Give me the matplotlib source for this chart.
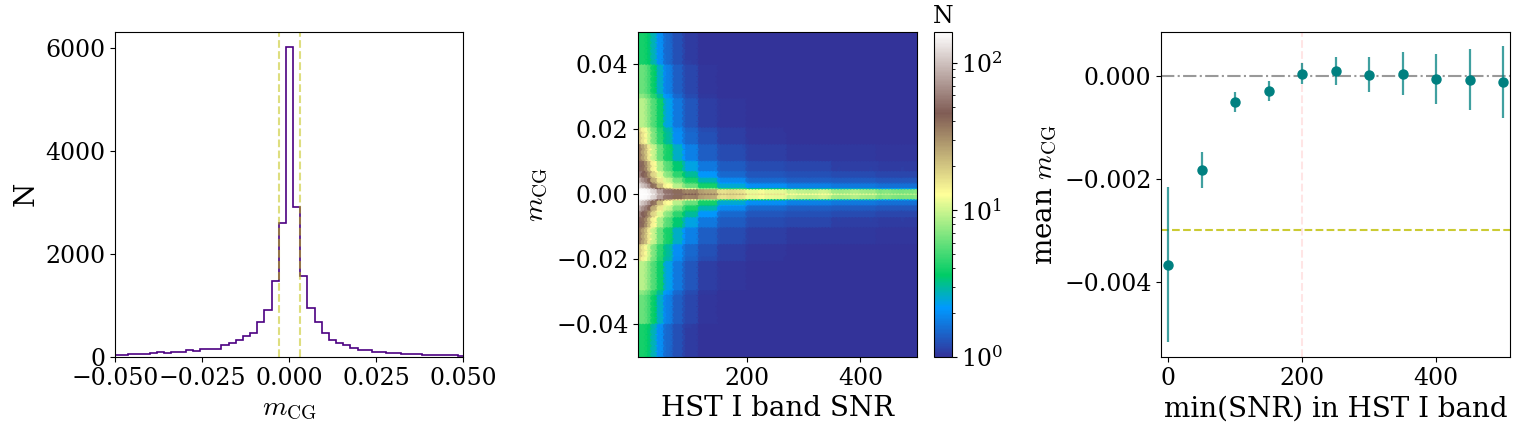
import numpy as np
import matplotlib
matplotlib.use('Agg')
import matplotlib.pyplot as plt
from matplotlib.colors import LogNorm

plt.rcParams['font.family'] = 'DejaVu Serif'
plt.rcParams['mathtext.fontset'] = 'cm'
plt.rcParams['xtick.labelsize'] = 17
plt.rcParams['ytick.labelsize'] = 17

# --- panel 1: histogram of m_CG (counts per bin)
hist_edges = np.linspace(-0.0504, 0.0505, 50)
hist_counts = [32, 32, 58, 58, 58, 78, 97, 78, 90, 90, 129, 110, 149, 149, 149,
               233, 265, 323, 400, 459, 672, 905, 1480, 2611,
               6030,
               2915, 1584, 944, 672, 472, 336, 265, 233, 181, 129, 129, 97, 97,
               78, 78, 58, 58, 58, 32, 32, 32, 32, 32, 25]
cut_lines = [-0.003, 0.003]

# --- panel 2: hexbin density, mean counts per (|m|, SNR) block
snr_edges = [9.3, 16, 24, 32, 42, 55, 70, 90, 115, 150, 200, 270, 350, 430, 500]
absm_edges = [0, 0.001, 0.002, 0.0035, 0.005, 0.0075, 0.01, 0.015, 0.02, 0.03, 0.04, 0.05]
density = [
    [160, 165, 160, 140, 95, 65, 52, 45, 35, 22, 16, 13, 11, 9],
    [150, 150, 125, 85, 45, 28, 18, 12, 8, 5, 3.5, 3, 2.8, 2.5],
    [120, 100, 70, 40, 22, 13, 9, 6, 4, 2.5, 2, 1.8, 1.7, 1.6],
    [85, 65, 42, 25, 15, 10, 6.5, 4, 2.8, 1.9, 1.5, 1.4, 1.35, 1.3],
    [60, 45, 30, 18, 11, 7, 4.5, 3, 2.1, 1.5, 1.3, 1.25, 1.2, 1.15],
    [50, 38, 22, 14, 8.5, 5.5, 3.5, 2.4, 1.7, 1.35, 1.2, 1.15, 1.1, 1.08],
    [35, 25, 15, 10, 6, 4, 2.6, 1.8, 1.4, 1.2, 1.1, 1.05, 1.05, 1.03],
    [20, 15, 10, 7, 4.5, 3, 2.0, 1.5, 1.25, 1.1, 1.03, 1, 1, 1],
    [9, 9, 7, 5.5, 3.8, 2.4, 1.7, 1.3, 1.1, 1.03, 1, 1, 1, 1],
    [6, 6, 5, 3.8, 2.6, 1.8, 1.4, 1.15, 1.03, 1, 1, 1, 1, 1],
    [4, 4, 3.5, 2.8, 2.0, 1.5, 1.25, 1.08, 1, 1, 1, 1, 1, 1],
]

# --- panel 3: mean m_CG vs SNR cut
snr_cut = [0, 50, 100, 150, 200, 250, 300, 350, 400, 450, 500]
mean_m = [-3.665e-3, -1.826e-3, -0.51e-3, -0.297e-3, 0.039e-3, 0.09e-3,
          0.013e-3, 0.039e-3, -0.065e-3, -0.077e-3, -0.123e-3]
mean_err = [1.5e-3, 0.35e-3, 0.2e-3, 0.2e-3, 0.21e-3, 0.27e-3,
            0.34e-3, 0.42e-3, 0.49e-3, 0.59e-3, 0.69e-3]

fig = plt.figure(figsize=(15.24, 4.33), dpi=100)
ax1 = fig.add_axes([0.0757, 0.1755, 0.2283, 0.7517])
ax2 = fig.add_axes([0.4188, 0.1755, 0.1831, 0.7517])
cax = fig.add_axes([0.6130, 0.1755, 0.01142, 0.7517])
ax3 = fig.add_axes([0.7620, 0.1755, 0.2288, 0.7517])

# histogram
ax1.stairs(hist_counts, hist_edges, color='indigo', lw=1.2)
for xv in cut_lines:
    ax1.axvline(xv, color='y', alpha=0.5, ls='--', lw=1.5)
ax1.set_xlim(-0.05, 0.05)
ax1.set_ylim(0, 6330)
ax1.set_xticks([-0.05, -0.025, 0, 0.025, 0.05])
ax1.set_yticks([0, 2000, 4000, 6000])
ax1.set_xlabel(r'$m_{\rm CG}$', fontsize=20)
ax1.set_ylabel('N', fontsize=20)

# hexbin: sample the block table on a fine lattice and let hexbin average it
gx, gy = np.meshgrid(np.linspace(snr_edges[0], snr_edges[-1], 450),
                     np.linspace(-0.05, 0.05, 300))
gx = gx.ravel()
gy = gy.ravel()
dens = np.array(density)
ci = np.clip(np.searchsorted(snr_edges, gx, side='right') - 1, 0, len(snr_edges) - 2)
ri = np.clip(np.searchsorted(absm_edges, np.abs(gy), side='right') - 1, 0, len(absm_edges) - 2)
hb = ax2.hexbin(gx, gy, C=dens[ri, ci], reduce_C_function=np.mean,
                gridsize=(88, 58), cmap='terrain', norm=LogNorm(vmin=1, vmax=163))
ax2.set_xlim(snr_edges[0], snr_edges[-1])
ax2.set_ylim(-0.05, 0.05)
ax2.set_xticks([200, 400])
ax2.set_yticks([-0.04, -0.02, 0, 0.02, 0.04])
ax2.set_xlabel('HST I band SNR', fontsize=20)
ax2.set_ylabel(r'$m_{\rm CG}$', fontsize=20)
cb = fig.colorbar(hb, cax=cax)
cb.ax.set_title('N', fontsize=17)

# mean m_CG vs SNR cut
ax3.axhline(0, color='gray', alpha=0.8, ls='-.', lw=1.5)
ax3.axhline(-0.003, color='y', alpha=0.8, ls='--', lw=1.5)
ax3.axvline(200, color='r', alpha=0.1, ls='--', lw=1.5)
ax3.errorbar(snr_cut, mean_m, yerr=mean_err, fmt='o', color='teal',
             ecolor=(0.0, 0.5, 0.5, 0.75), elinewidth=1.6, markersize=6.5)
ax3.set_xlim(-10, 510)
ax3.set_xticks([0, 200, 400])
ax3.set_yticks([-0.004, -0.002, 0.0])
ax3.set_xlabel('min(SNR) in HST I band', fontsize=20)
ax3.set_ylabel(r'mean $m_{\rm CG}$', fontsize=20)

fig.savefig('out.png', dpi=100)
